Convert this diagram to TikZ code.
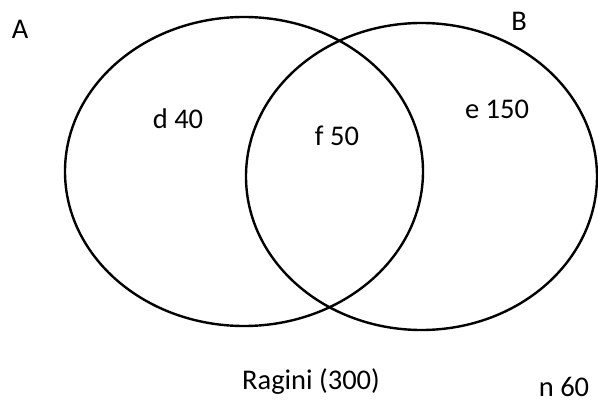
\documentclass[tikz,border=0pt]{standalone}
\usepackage{fontspec}
\setmainfont{Carlito}
\begin{document}
\begin{tikzpicture}[x=1pt,y=-1pt,
  setshape/.style={draw=black,line width=2.4pt},
  lbl/.style={inner sep=0pt,font=\fontsize{28.5}{31}\selectfont}]
\useasboundingbox[fill=white] (0,0) rectangle (598,404);
\draw[setshape] (244,171.5) ellipse [x radius=179, y radius=154.5];
\draw[setshape] (421.5,176.5) ellipse [x radius=175.5, y radius=153.5];
\node[lbl] (A) at (20,29) {A};
\node[lbl] (B) at (519,21) {B};
\node[lbl] (d) at (178,119) {d 40};
\node[lbl] (f) at (337,136) {f 50};
\node[lbl] (e) at (497,109) {e 150};
\node[lbl] (r) at (311,382) {Ragini (300)};
\node[lbl] (n) at (564,387) {n 60};
\end{tikzpicture}
\end{document}
